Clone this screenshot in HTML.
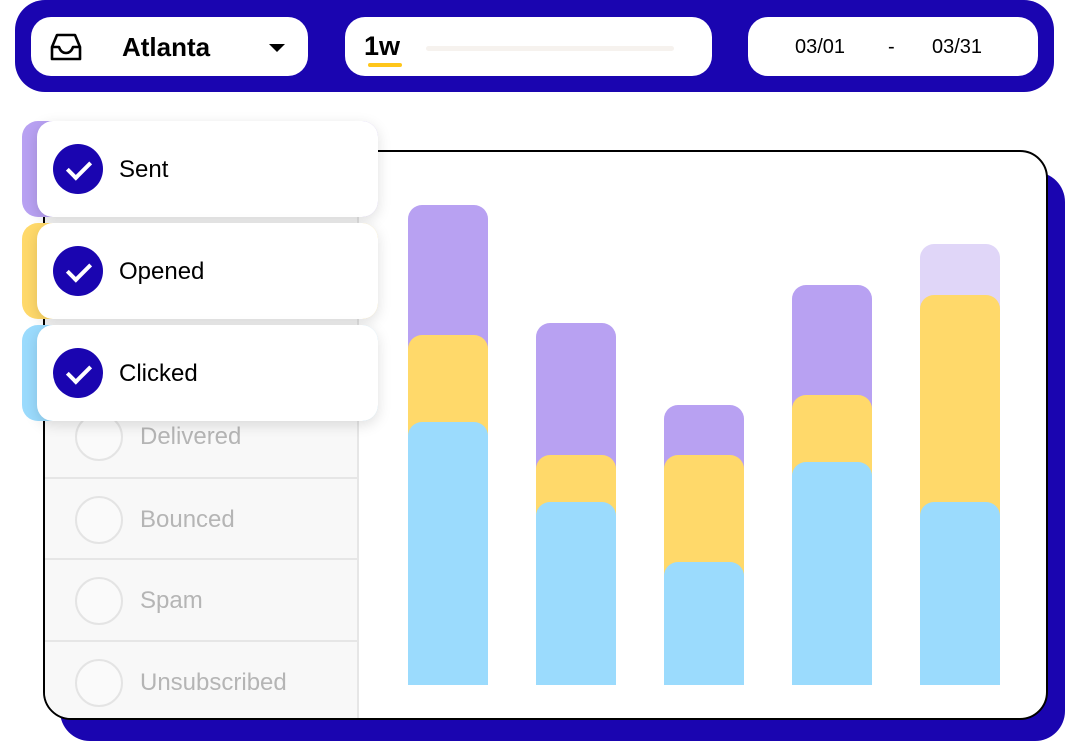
<!DOCTYPE html>
<html><head><style>
*{margin:0;padding:0;box-sizing:border-box}
body{width:1080px;height:742px;background:#fff;position:relative;overflow:hidden;font-family:"Liberation Sans",sans-serif}
.a{position:absolute}
.bar{position:absolute;left:15px;top:0;width:1039px;height:92px;background:#1a05b0;border-radius:30px}
.pill{position:absolute;background:#fff;border-radius:20px;top:17px;height:59px}
.shadow{left:60px;top:172px;width:1005px;height:569px;background:#1a05b0;border-radius:30px}
.card{left:43px;top:150px;width:1005px;height:570px;background:#fff;border:2px solid #000;border-radius:28px;overflow:hidden}
.side{position:absolute;left:0;top:0;width:314px;height:100%;background:#f8f8f8;border-right:2px solid #e6e6e6}
.row{position:absolute;left:0;width:312px;border-top:2px solid #e6e6e6;height:81px}
.row .c{position:absolute;left:30px;top:17px;width:48px;height:48px;border:2px solid #e4e4e4;border-radius:50%;background:#fafafa}
.row span{position:absolute;left:95px;top:27px;font-size:24px;color:#b5b5b5}
.seg{position:absolute;width:80px;border-radius:14px 14px 0 0}
.P{background:#b8a1f2}.Y{background:#ffd96a}.B{background:#9bdbfd}.L{background:#e0d6f8}
.fl{position:absolute;left:22px;width:356px;height:96px;border-radius:16px}
.fw{position:absolute;left:37px;width:341px;height:96px;background:#fff;border-radius:16px;box-shadow:0 4px 14px rgba(0,0,0,.13)}
.chk{position:absolute;left:16px;top:23px;width:50px;height:50px;border-radius:50%;background:#1a05b0}
.chk:after{content:"";position:absolute;left:19px;top:12px;width:10px;height:19px;border:solid #fff;border-width:0 4px 4px 0;transform:rotate(45deg)}
.fw span{position:absolute;left:82px;top:35px;font-size:24px;color:#000}
</style></head><body>
<div class="bar"></div>
<div class="pill" style="left:31px;width:277px">
 <svg class="a" style="left:17px;top:14px" width="36" height="32" viewBox="0 0 36 32"><path d="M4 16 L9 4 H27 L32 16 V28 H4 Z M4 16 H11 Q13 22 18 22 Q23 22 25 16 H32" fill="none" stroke="#000" stroke-width="2.6" stroke-linejoin="round"/></svg>
 <div class="a" style="left:91px;top:15px;font-size:26px;font-weight:bold">Atlanta</div>
 <div class="a" style="left:238px;top:27px;width:0;height:0;border-left:8px solid transparent;border-right:8px solid transparent;border-top:8px solid #000"></div>
</div>
<div class="pill" style="left:345px;width:367px">
 <div class="a" style="left:19px;top:14px;font-size:27px;font-weight:bold">1w</div>
 <div class="a" style="left:23px;top:46px;width:34px;height:4px;background:#ffc61a;border-radius:2px"></div>
 <div class="a" style="left:81px;top:29px;width:248px;height:5px;background:#f6f2ee;border-radius:3px"></div>
</div>
<div class="pill" style="left:748px;width:290px">
 <div class="a" style="left:47px;top:19px;font-size:20px">03/01</div>
 <div class="a" style="left:140px;top:19px;font-size:20px">-</div>
 <div class="a" style="left:184px;top:19px;font-size:20px">03/31</div>
</div>
<div class="a shadow"></div>
<div class="a card">
 <div class="side">
  <div class="row" style="top:244px;border-top:none"><div class="c"></div><span>Delivered</span></div>
  <div class="row" style="top:325px"><div class="c"></div><span>Bounced</span></div>
  <div class="row" style="top:406px"><div class="c"></div><span>Spam</span></div>
  <div class="row" style="top:488px"><div class="c"></div><span>Unsubscribed</span></div>
 </div>
</div>
<div class="seg P" style="left:408px;top:205px;height:480px"></div>
<div class="seg Y" style="left:408px;top:335px;height:350px"></div>
<div class="seg B" style="left:408px;top:422px;height:263px"></div>
<div class="seg P" style="left:536px;top:323px;height:362px"></div>
<div class="seg Y" style="left:536px;top:455px;height:230px"></div>
<div class="seg B" style="left:536px;top:502px;height:183px"></div>
<div class="seg P" style="left:664px;top:405px;height:280px"></div>
<div class="seg Y" style="left:664px;top:455px;height:230px"></div>
<div class="seg B" style="left:664px;top:562px;height:123px"></div>
<div class="seg P" style="left:792px;top:285px;height:400px"></div>
<div class="seg Y" style="left:792px;top:395px;height:290px"></div>
<div class="seg B" style="left:792px;top:462px;height:223px"></div>
<div class="seg L" style="left:920px;top:244px;height:441px"></div>
<div class="seg Y" style="left:920px;top:295px;height:390px"></div>
<div class="seg B" style="left:920px;top:502px;height:183px"></div>
<div class="fl P" style="top:121px"></div>
<div class="fw" style="top:121px"><div class="chk"></div><span>Sent</span></div>
<div class="fl Y" style="top:223px"></div>
<div class="fw" style="top:223px"><div class="chk"></div><span>Opened</span></div>
<div class="fl B" style="top:325px"></div>
<div class="fw" style="top:325px"><div class="chk"></div><span>Clicked</span></div>
</body></html>
